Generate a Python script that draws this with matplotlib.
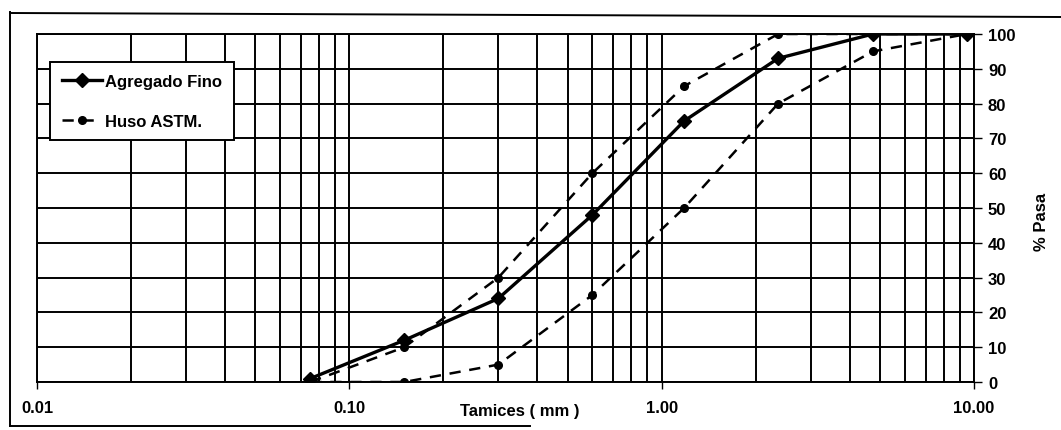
import matplotlib
matplotlib.use("Agg")
import matplotlib.pyplot as plt
from matplotlib.lines import Line2D
from matplotlib.ticker import FixedLocator, LogLocator, NullFormatter

plt.rcParams['font.family'] = ['Liberation Sans', 'DejaVu Sans']
plt.rcParams['font.weight'] = 'bold'

# Sieve openings (mm) and percent passing
tamices = [0.075, 0.15, 0.30, 0.60, 1.18, 2.36, 4.75, 9.50]
agregado_fino = [1, 12, 24, 48, 75, 93, 100, 100]
huso_inferior = [0, 0, 5, 25, 50, 80, 95, 100]
huso_superior = [0, 10, 30, 60, 85, 100, 100, 100]

x_ticks = [0.01, 0.1, 1, 10]
x_tick_labels = ["0.01", "0.10", "1.00", "10.00"]
y_ticks = list(range(0, 101, 10))

W, H = 1061, 431
fig = plt.figure(figsize=(W / 100, H / 100), dpi=100)
fig.patch.set_facecolor("white")

ax = fig.add_axes([37 / W, 1 - 383 / H, (974 - 37) / W, (383 - 35) / H])
ax.set_xscale("log")
ax.set_xlim(0.01, 10)
ax.set_ylim(0, 100)

# grid
ax.xaxis.set_major_locator(FixedLocator(x_ticks))
ax.xaxis.set_minor_locator(LogLocator(base=10, subs=range(2, 10)))
ax.xaxis.set_minor_formatter(NullFormatter())
ax.set_xticklabels(x_tick_labels)
ax.set_yticks(y_ticks)
ax.grid(True, which="major", axis="both", color="black", lw=1.4)
ax.grid(True, which="minor", axis="x", color="black", lw=1.4)
ax.set_axisbelow(True)

for s in ax.spines.values():
    s.set_color("black")
    s.set_linewidth(1.4)

ax.yaxis.tick_right()
ax.yaxis.set_label_position("right")
ax.tick_params(axis="y", which="major", direction="out", length=6, width=1,
               pad=4, labelsize=12, colors="black")
ax.tick_params(axis="x", which="major", direction="out", length=5, width=1,
               pad=8, labelsize=12, colors="black")
ax.tick_params(axis="x", which="minor", length=0)

ax.plot(tamices, agregado_fino, color="black", lw=2.4, marker="D",
        markersize=7.5, label="Agregado Fino", zorder=4)
ax.plot(tamices, huso_inferior, color="black", lw=1.8, ls=(0, (4.5, 3.5)),
        marker="o", markersize=5.5, label="Huso ASTM.", zorder=3)
ax.plot(tamices, huso_superior, color="black", lw=1.8, ls=(0, (4.5, 3.5)),
        marker="o", markersize=5.5, zorder=3)

leg = ax.legend(loc="upper left", bbox_to_anchor=(50 / W, 1 - 63 / H),
                bbox_transform=fig.transFigure, borderaxespad=0,
                fontsize=12, frameon=True, fancybox=False, framealpha=1,
                edgecolor="black", handlelength=2.4, handletextpad=0.2,
                labelspacing=1.5, borderpad=0.7)
leg.get_frame().set_linewidth(1.4)

fig.text(520 / W, 1 - 412 / H, "Tamices ( mm )", ha="center", va="center",
         fontsize=12)
fig.text(1041 / W, 1 - 222 / H, "% Pasa", ha="center", va="center",
         rotation=90, fontsize=12)

# outer chart frame
fig.add_artist(Line2D([10 / W, 10 / W], [1 - 13 / H, 1 - 427 / H],
                      transform=fig.transFigure, color="black", lw=1.4))
fig.add_artist(Line2D([10 / W, 1.0], [1 - 14 / H, 1 - 18 / H],
                      transform=fig.transFigure, color="black", lw=1.4))
fig.add_artist(Line2D([10 / W, 530 / W], [1 - 427 / H, 1 - 427 / H],
                      transform=fig.transFigure, color="black", lw=1.4))

fig.savefig("out.png", dpi=100, facecolor="white")
